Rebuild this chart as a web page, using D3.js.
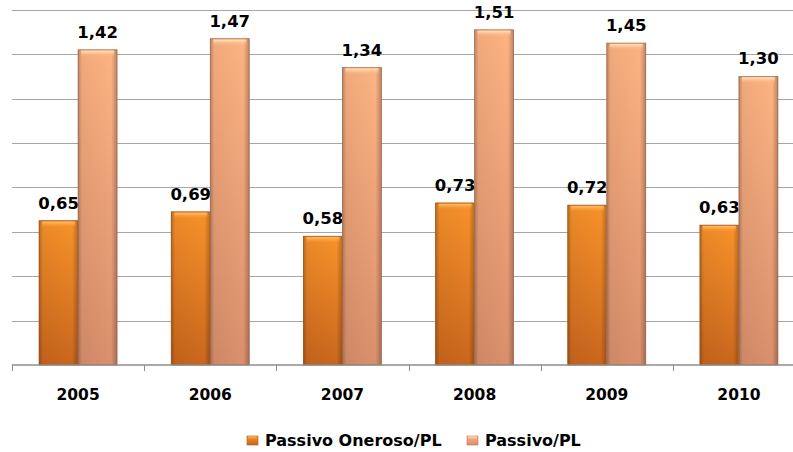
<!DOCTYPE html>
<html>
<head>
<meta charset="utf-8">
<script src="https://cdn.jsdelivr.net/npm/d3@7"></script>
<style>
  html, body { margin: 0; padding: 0; background: #fff; }
  svg { display: block; }
  text { font-family: "DejaVu Sans", Verdana, sans-serif; font-weight: bold; fill: #000; }
</style>
</head>
<body>
<div id="chart"></div>
<script>
const years = ["2005", "2006", "2007", "2008", "2009", "2010"];
const seriesNames = ["Passivo Oneroso/PL", "Passivo/PL"];
const passivoOneroso = [0.65, 0.69, 0.58, 0.73, 0.72, 0.63];
const passivo = [1.42, 1.47, 1.34, 1.51, 1.45, 1.30];
const yTicks = [0, 0.2, 0.4, 0.6, 0.8, 1.0, 1.2, 1.4, 1.6];

const W = 793, H = 452;
const svg = d3.select("#chart").append("svg").attr("width", W).attr("height", H);
const defs = svg.append("defs");

const x = d3.scaleBand().domain(years).range([12, 805]).paddingInner(0).paddingOuter(0);
const y = d3.scaleLinear().domain([0, 1.6]).range([365, 9.8]);
const barW = 39;

const palettes = [
  { id: "g0", top: "#F8922A", bottom: "#C9661D", cap: "#FFC46E", stroke: "#B2581C" },
  { id: "g1", top: "#FDB382", bottom: "#D98F6C", cap: "#FFE9C2", stroke: "#B8775A" }
];
palettes.forEach(p => {
  const v = defs.append("linearGradient").attr("id", p.id + "v").attr("x1", 0).attr("y1", 0).attr("x2", 0).attr("y2", 1);
  v.append("stop").attr("offset", "0%").attr("stop-color", p.top);
  v.append("stop").attr("offset", "100%").attr("stop-color", p.bottom);
  const h = defs.append("linearGradient").attr("id", p.id + "h").attr("x1", 0).attr("y1", 0).attr("x2", 1).attr("y2", 0);
  h.append("stop").attr("offset", "0%").attr("stop-color", "#000").attr("stop-opacity", 0.25);
  h.append("stop").attr("offset", "10%").attr("stop-color", "#000").attr("stop-opacity", 0.05);
  h.append("stop").attr("offset", "85%").attr("stop-color", "#000").attr("stop-opacity", 0.0);
  h.append("stop").attr("offset", "100%").attr("stop-color", "#000").attr("stop-opacity", 0.25);
  const c = defs.append("linearGradient").attr("id", p.id + "c").attr("x1", 0).attr("y1", 0).attr("x2", 0).attr("y2", 1);
  c.append("stop").attr("offset", "0%").attr("stop-color", p.cap).attr("stop-opacity", 0.95);
  c.append("stop").attr("offset", "100%").attr("stop-color", p.top).attr("stop-opacity", 0);
});

// gridlines
svg.append("g").selectAll("line").data(yTicks.filter(d => d > 0)).join("line")
  .attr("x1", 12).attr("x2", W).attr("y1", d => Math.round(y(d)) + 0.5).attr("y2", d => Math.round(y(d)) + 0.5)
  .attr("stroke", "#A6A6A6").attr("stroke-width", 1);

// bars
const series = [passivoOneroso, passivo];
series.forEach((vals, si) => {
  const p = palettes[si];
  const g = svg.append("g");
  const xp = (d, i) => x(years[i]) + x.bandwidth() / 2 + (si === 0 ? -barW : 0);
  g.selectAll("rect.b").data(vals).join("rect").attr("class", "b")
    .attr("x", xp).attr("width", barW)
    .attr("y", d => y(d)).attr("height", d => y(0) - y(d))
    .attr("fill", `url(#${p.id}v)`).attr("stroke", p.stroke).attr("stroke-width", 0.8);
  g.selectAll("rect.h").data(vals).join("rect").attr("class", "h")
    .attr("x", xp).attr("width", barW)
    .attr("y", d => y(d)).attr("height", d => y(0) - y(d))
    .attr("fill", `url(#${p.id}h)`);
  g.selectAll("rect.c").data(vals).join("rect").attr("class", "c")
    .attr("x", (d, i) => xp(d, i) + 3).attr("width", barW - 6)
    .attr("y", d => y(d) + 1).attr("height", 6)
    .attr("fill", `url(#${p.id}c)`);
  g.selectAll("text").data(vals).join("text")
    .attr("x", (d, i) => xp(d, i) + barW / 2)
    .attr("y", d => y(d) - 12)
    .attr("text-anchor", "middle").attr("font-size", 16.5)
    .text(d => d.toFixed(2).replace(".", ","));
});

// x axis
const axis = svg.append("g").attr("transform", `translate(0,${y(0)})`)
  .call(d3.axisBottom(x).tickSize(0).tickPadding(24));
axis.select(".domain").attr("stroke", "#8C8C8C").attr("stroke-width", 1.5).attr("d", `M12,0H${W}`);
axis.selectAll("text").attr("font-size", 15.5).attr("font-family", "DejaVu Sans, sans-serif").attr("font-weight", "bold").attr("fill", "#000");
svg.append("g").selectAll("line").data(years.concat(["end"])).join("line")
  .attr("x1", (d, i) => Math.round(12 + i * x.bandwidth()) + 0.5)
  .attr("x2", (d, i) => Math.round(12 + i * x.bandwidth()) + 0.5)
  .attr("y1", y(0)).attr("y2", y(0) + 6).attr("stroke", "#8C8C8C").attr("stroke-width", 1);

// legend
const legend = svg.append("g");
const legendX = [247, 467];
seriesNames.forEach((name, i) => {
  const p = palettes[i];
  legend.append("rect").attr("x", legendX[i]).attr("y", 436).attr("width", 11).attr("height", 9)
    .attr("fill", `url(#${p.id}v)`).attr("stroke", p.stroke).attr("stroke-width", 0.6);
  legend.append("rect").attr("x", legendX[i] + 1).attr("y", 436.5).attr("width", 9).attr("height", 3)
    .attr("fill", `url(#${p.id}c)`);
  legend.append("text").attr("x", legendX[i] + 18).attr("y", 446).attr("font-size", 16).text(name);
});
</script>
</body>
</html>
